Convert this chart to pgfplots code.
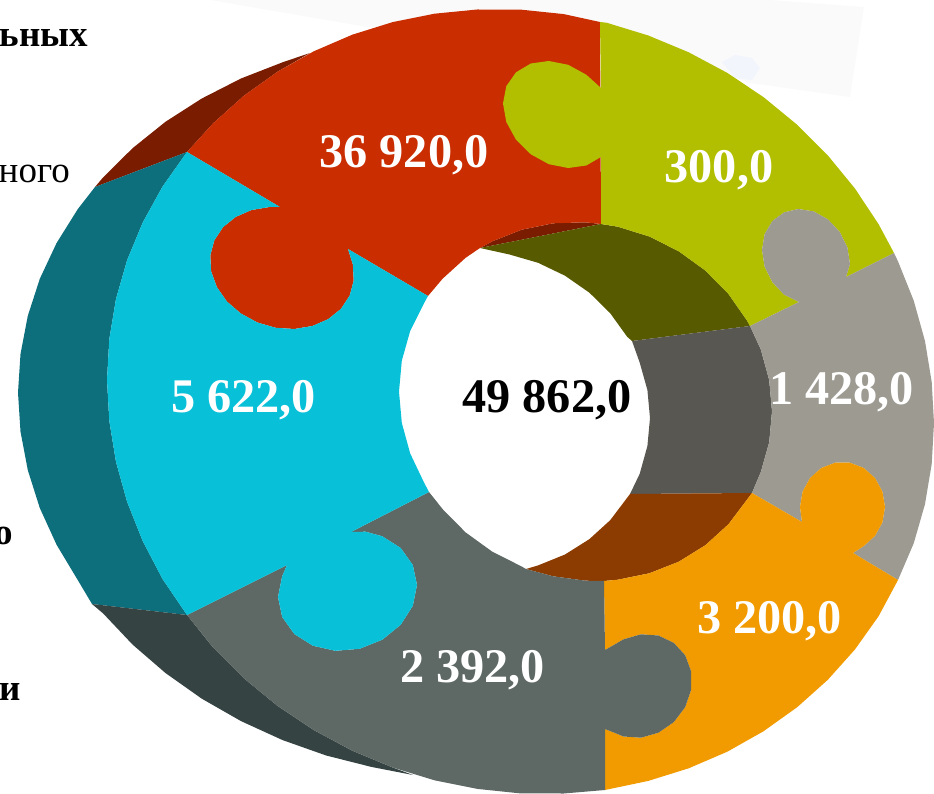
\documentclass[border=0pt]{standalone}
\usepackage{pgfplots}
\pgfplotsset{compat=1.18}
\usepackage{fontspec}
\setmainfont{Liberation Serif}
\definecolor{cred}{HTML}{C92D00}
\definecolor{colive}{HTML}{B2BF00}
\definecolor{cgray}{HTML}{9C9A91}
\definecolor{corange}{HTML}{F19B00}
\definecolor{cslate}{HTML}{5E6966}
\definecolor{ccyan}{HTML}{08C0D8}
\definecolor{bred}{HTML}{7A1C00}
\definecolor{bteal}{HTML}{0D6E7C}
\definecolor{bslate}{HTML}{364343}
\definecolor{bolive}{HTML}{585A00}
\definecolor{bgray}{HTML}{595751}
\definecolor{bbrown}{HTML}{8C3C00}
\definecolor{pale}{HTML}{FAFAFB}
\definecolor{paleb}{HTML}{F2F5FB}
\tikzset{pc/.style={fill=#1,draw=none},
  val/.style={anchor=base,text=white,font=\fontsize{48.3}{48}\selectfont\bfseries},
  lab/.style={anchor=base east,inner sep=0pt}}
\begin{document}
\begin{tikzpicture}
\begin{axis}[name=ax,scale only axis,width=934pt,height=794pt,
  xmin=0,xmax=934,ymin=0,ymax=794,y dir=reverse,axis lines=none,clip=false]
% faded picture behind the ring
\addplot[pc=pale] coordinates {(210,0) (770,0) (864,7) (850,97) (750,83) (600,30) (367,27)} -- cycle;
\addplot[pc=paleb] coordinates {(722,62) (735,55) (752,58) (760,68) (752,80) (735,78)} -- cycle;
% back walls, outer side
\addplot[pc=bred] coordinates {(187,152) (95,187) (103.2,177.3) (132.6,148.2) (165.6,121.7) (201.8,98.5) (241,78.5) (282.6,62.3) (310,53)
  (277.4,71.8) (243.8,95.8) (213.2,123.2)} -- cycle;
\addplot[pc=bteal] coordinates {(95,187) (77.8,209.1) (56.6,243) (39.8,278.8) (27.8,315.9) (20.5,354) (18,392.7) (20.5,431.6) (27.8,470.1) (39.8,508) (56.6,544.8) (77.8,580.1) (92,604)
  (187,615) (162.4,578.8) (142.8,541.2) (127.2,502.1) (116,461.9) (109.3,421) (107,379.9) (109.3,339) (116,298.9) (127.2,259.9) (142.8,222.4) (162.4,186.8) (187,152)} -- cycle;
\addplot[pc=bslate] coordinates {(92,604) (103.2,613.5) (132.6,644.6) (165.6,673.1) (201.8,698.7) (241,721.1) (282.6,740.1) (326.2,755.5) (371.3,766.9) (413,775)
  (392.7,767.5) (352.3,750.7) (313.8,730.1) (277.4,705.8) (243.8,678.2) (213.2,647.6) (187,615)} -- cycle;
% inner walls seen through the hole
\addplot[pc=bred] coordinates {(480,248) (492.3,241.3) (521.7,229.7) (553.1,223.3) (585.5,222.3) (601,224)} -- cycle;
\addplot[pc=bolive] coordinates {(480,248) (601,224) (617.9,226.7) (649.3,236.5) (678.8,251.3) (705.4,270.6) (728.4,293.9) (747,320.5) (750,326)
  (632,341) (627.2,336.8) (610.2,313.2) (589.3,292.6) (565,275.7) (538.1,262.8) (509.5,254.5)} -- cycle;
\addplot[pc=bgray] coordinates {(632,341) (750,326) (760.8,349.5) (769.2,380.1) (772,411.4) (769.2,442.3) (760.8,472.1) (752,493)
  (630,494) (639.7,473.8) (647.4,446) (650,418.1) (647.4,390) (639.7,362.6)} -- cycle;
\addplot[pc=bbrown] coordinates {(630,494) (752,493) (747,499.7) (728.4,524.3) (705.4,545.2) (678.8,561.7) (649.3,573.3) (617.9,579.7) (604,581) (585.5,580.7) (553.1,576.3) (526,569)
  (538.1,565.4) (565,554.5) (589.3,539.2) (610.2,520.2)} -- cycle;
% front pieces
\addplot[pc=cred] coordinates {(187,152) (213.2,123.2) (243.8,95.8) (277.4,71.8) (313.8,51.3) (352.3,34.7) (392.7,22.1) (434.5,13.7) (477.3,9.5) (520.5,9.6) (563.7,14.1) (600,22)
  (601,224) (585.5,222.3) (553.1,223.3) (521.7,229.7) (492.3,241.3) (480,248) (465.6,257.8) (442.6,278.7) (428,296)
  (348,249) (352.9,264.7) (353.7,280.6) (349.7,295.6) (341,308.8) (328.3,319.1) (312.4,326) (294.5,329) (275.7,327.8) (257.4,322.5) (240.7,313.4) (226.8,301.4) (216.8,287) (211.1,271.3) (210.3,255.4) (214.3,240.4) (223,227.2) (235.7,216.9) (251.6,210) (269.5,207) (280,207)} -- cycle;
\addplot[pc=colive] coordinates {(600,22) (606.5,22.7) (648.3,35.5) (688.7,52.3) (727.3,72.9) (763.6,97.2) (797.2,124.8) (827.8,155.4) (855,188.6) (878.6,224.2) (894,253)
  (846,277) (850,264) (847.4,247.4) (839.7,231.9) (828,219.4) (813.7,211.4) (798.3,209) (784,212.4) (772.3,221.1) (764.6,234.2) (762,250) (764.6,266.6) (772.3,282.1) (784,294.6) (799,302)
  (750,326) (747,320.5) (728.4,293.9) (705.4,270.6) (678.8,251.3) (649.3,236.5) (617.9,226.7) (601,224)
  (601,157) (586.3,165.5) (568.2,168) (548.8,164.2) (530.8,154.3) (516,139.7) (506.3,122) (503,103.4) (506.3,86.2) (516,72.3) (530.8,63.5) (548.8,61) (568.2,64.8) (586.3,74.7) (601,88)} -- cycle;
\addplot[pc=cgray] coordinates {(894,253) (898.2,261.8) (913.8,300.9) (925,341.1) (931.7,382) (934,423.1) (931.7,464) (925,504.1) (913.8,543.1) (898,580)
  (853,553) (863.8,546) (875,535.9) (882.4,522.4) (885,507) (882.4,491.6) (875,478.1) (863.8,468) (849.9,462.7) (835.1,462.7) (821.3,468) (810,478.1) (802.6,491.6) (800,507) (802,522)
  (752,493) (760.8,472.1) (769.2,442.3) (772,411.4) (769.2,380.1) (760.8,349.5) (750,326)
  (799,302) (784,294.6) (772.3,282.1) (764.6,266.6) (762,250) (764.6,234.2) (772.3,221.1) (784,212.4) (798.3,209) (813.7,211.4) (828,219.4) (839.7,231.9) (847.4,247.4) (850,264) (846,277)} -- cycle;
\addplot[pc=corange] coordinates {(752,493) (802,522) (800,507) (802.6,491.6) (810,478.1) (821.3,468) (835.1,462.7) (849.9,462.7) (863.8,468) (875,478.1) (882.4,491.6) (885,507) (882.4,522.4) (875,535.9) (863.8,546) (853,553)
  (898,580) (878.6,616.2) (855,649.4) (827.8,679.8) (797.2,707.2) (763.6,731.2) (727.3,751.7) (688.7,768.3) (648.3,780.9) (605,790)
  (605,729) (623.6,736.5) (641,737.7) (658.4,732.7) (673.8,722.1) (685.2,707.1) (691.2,689.6) (691.2,671.6) (685.2,655.3) (673.8,642.9) (658.4,635.5) (641,634.3) (623.6,639.3) (605,650)
  (604,581) (617.9,579.7) (649.3,573.3) (678.8,561.7) (705.4,545.2) (728.4,524.3) (747,499.7)} -- cycle;
\addplot[pc=cslate] coordinates {(187,615) (213.2,647.6) (243.8,678.2) (277.4,705.8) (313.8,730.1) (352.3,750.7) (392.7,767.5) (434.5,780.3) (477.3,788.9) (520.5,793.4) (563.7,793.5) (605,790)
  (605,729) (623.6,736.5) (641,737.7) (658.4,732.7) (673.8,722.1) (685.2,707.1) (691.2,689.6) (691.2,671.6) (685.2,655.3) (673.8,642.9) (658.4,635.5) (641,634.3) (623.6,639.3) (605,650)
  (604,581) (585.5,580.7) (553.1,576.3) (526,569) (521.7,566.5) (492.3,551.7) (465.6,532.4) (442.6,509.1) (429,492)
  (351,532) (365.5,531.7) (382.3,536.3) (400.7,548) (412.8,565) (417,585) (412.8,605.8) (400.7,624.8) (382.3,639.7) (359.6,648.8) (335.4,650.8) (312.8,645.7) (294.3,634) (282.2,617) (278,597) (282.2,576.2) (287,565)} -- cycle;
\addplot[pc=ccyan] coordinates {(187,152) (162.4,186.8) (142.8,222.4) (127.2,259.9) (116,298.9) (109.3,339) (107,379.9) (109.3,421) (116,461.9) (127.2,502.1) (142.8,541.2) (162.4,578.8) (187,615)
  (287,565) (282.2,576.2) (278,597) (282.2,617) (294.3,634) (312.8,645.7) (335.4,650.8) (359.6,648.8) (382.3,639.7) (400.7,624.8) (412.8,605.8) (417,585) (412.8,565) (400.7,548) (382.3,536.3) (365.5,531.7) (351,532)
  (429,492) (424,482.5) (410.2,453.5) (401.8,422.9) (399,391.6) (401.8,360.7) (410.2,330.9) (424,303.3) (428,296)
  (348,249) (352.9,264.7) (353.7,280.6) (349.7,295.6) (341,308.8) (328.3,319.1) (312.4,326) (294.5,329) (275.7,327.8) (257.4,322.5) (240.7,313.4) (226.8,301.4) (216.8,287) (211.1,271.3) (210.3,255.4) (214.3,240.4) (223,227.2) (235.7,216.9) (251.6,210) (269.5,207) (280,207)} -- cycle;
% values
\node[val] at (axis cs:404,168) {36 920,0};
\node[val] at (axis cs:719,183) {300,0};
\node[val] at (axis cs:841.5,404) {1 428,0};
\node[val] at (axis cs:769.5,633) {3 200,0};
\node[val] at (axis cs:472.5,682) {2 392,0};
\node[val] at (axis cs:243.5,412) {5 622,0};
\node[val,text=black] at (axis cs:547,412) {49 862,0};
% legend text cut off by the left edge
\node[lab,font=\fontsize{37}{37}\selectfont\bfseries] at (axis cs:88,47) {ьных};
\node[lab,font=\fontsize{37}{37}\selectfont] at (axis cs:70,183) {ного};
\node[lab,font=\fontsize{37}{37}\selectfont\bfseries] at (axis cs:13,544) {о};
\node[lab,font=\fontsize{37}{37}\selectfont\bfseries] at (axis cs:21,700) {и};
\end{axis}
\pgfresetboundingbox
\path[use as bounding box] (ax.south west) rectangle (ax.north east);
\end{tikzpicture}
\end{document}
